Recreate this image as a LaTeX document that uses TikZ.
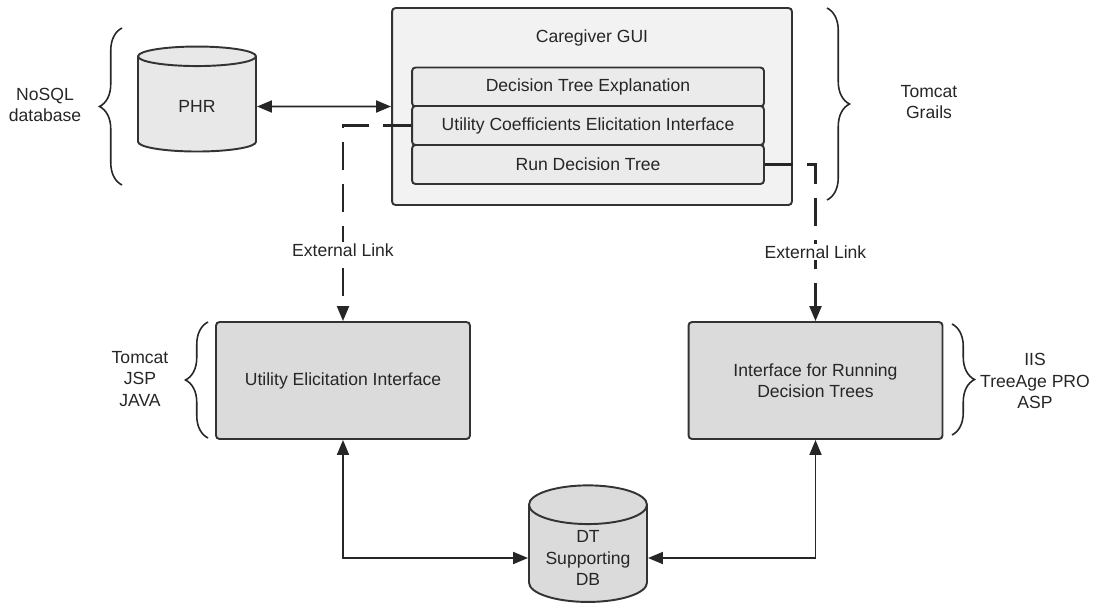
\documentclass[tikz,border=0pt]{standalone}
\usepackage{fontspec}
\setmainfont{Liberation Sans}
\usetikzlibrary{shapes.geometric,arrows.meta,decorations.pathreplacing}

\begin{document}
\begin{tikzpicture}[
  x=0.02cm, y=-0.02cm,
  font=\fontsize{10}{12}\selectfont,
  every node/.style={text=black!85},
  gui/.style={draw=black!80, line width=1.1pt, rounded corners=2pt, fill=black!5, minimum width=8cm, minimum height=3.94cm},
  part/.style={draw=black!80, line width=1.1pt, rounded corners=2pt, fill=black!8, minimum width=7.04cm, minimum height=0.78cm},
  box/.style={draw=black!80, line width=1.1pt, rounded corners=2pt, fill=black!14, minimum width=5.08cm, minimum height=2.34cm, align=center},
  db/.style={draw=black!80, line width=1.1pt, cylinder, shape border rotate=90, aspect=0.4, minimum width=2.36cm, minimum height=2.1cm, align=center},
  link/.style={draw=black!85, line width=1.1pt, {Triangle[length=3mm,width=2.4mm]}-{Triangle[length=3mm,width=2.4mm]}},
  extlink/.style={draw=black!85, line width=1.3pt, dash pattern=on 16pt off 8pt, -{Triangle[length=3mm,width=2.4mm]}},
  linklabel/.style={fill=white, inner sep=1pt},
  grp/.style={draw=black!85, line width=0.9pt, decorate, decoration={brace, amplitude=0.45cm}},
  lbl/.style={align=center}
]
  \useasboundingbox (0,0) rectangle (1098,613);

  % top row
  \node[db, fill=black!9] (phr) at (197,106.5) {PHR};
  \node[gui] (gui) at (592,106.5) {};
  \node (guititle) at (592,38) {Caregiver GUI};
  \node[part] (explain) at (588,87) {Decision Tree Explanation};
  \node[part] (coeff) at (588,125.5) {Utility Coefficients Elicitation Interface};
  \node[part] (rundt) at (588,164.5) {Run Decision Tree};

  % middle row
  \node[box] (uei) at (343,380.5) {Utility Elicitation Interface};
  \node[box] (idt) at (815.5,380.5) {Interface for Running\\Decision Trees};

  % bottom
  \node[db, fill=black!14, minimum height=1.85cm] (dtdb) at (588,558) {DT\\Supporting\\DB};

  % platform labels
  \node[lbl] (nosql) at (45,105) {NoSQL\\database};
  \node[lbl] (tomgr) at (929,102) {Tomcat\\Grails};
  \node[lbl] (tomjsp) at (140,379) {Tomcat\\JSP\\JAVA};
  \node[lbl] (iis) at (1035,381) {IIS\\TreeAge PRO\\ASP};

  \draw[grp] (122,185) -- (122,28);
  \draw[grp] (827,8) -- (827,200);
  \draw[grp] (208,438) -- (208,322);
  \draw[grp] (952,324) -- (952,435);

  % links
  \draw[link] (phr.east) -- (gui.west);
  \draw[extlink] (coeff.west) -| (uei.north) node[linklabel, pos=0.82] {External Link};
  \draw[extlink] (rundt.east) -| (idt.north) node[linklabel, pos=0.78] {External Link};
  \draw[link] (uei.south) |- (dtdb.west);
  \draw[link] (idt.south) |- (dtdb.east);
\end{tikzpicture}
\end{document}
